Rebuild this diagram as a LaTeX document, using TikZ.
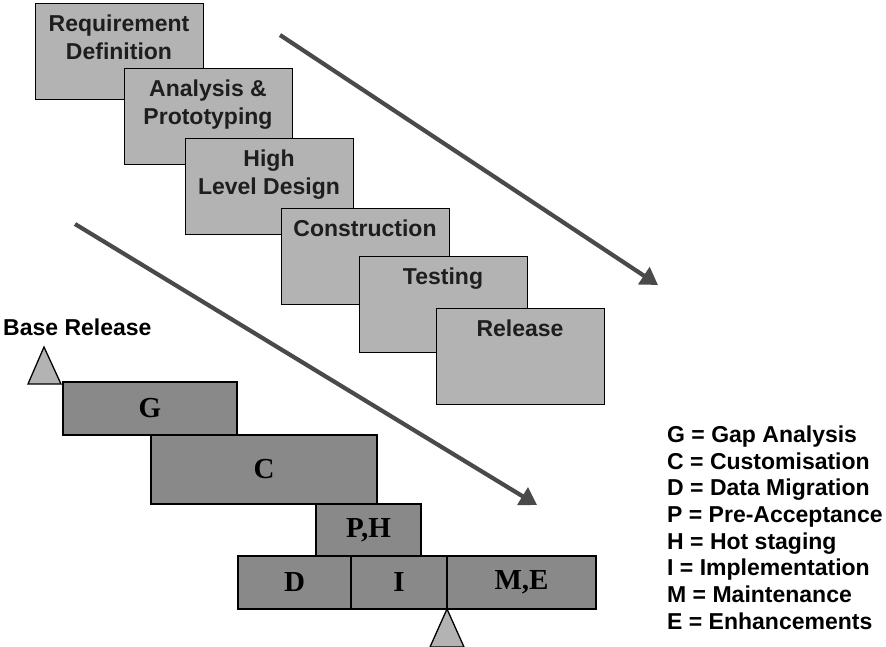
\documentclass[tikz,border=0pt]{standalone}
\usepackage{fontspec}
\setmainfont{Liberation Sans}
\newfontfamily\boxserif{Liberation Serif}
\usetikzlibrary{arrows.meta}

\definecolor{phasefill}{HTML}{B3B3B3}
\definecolor{stepfill}{HTML}{898989}
\definecolor{flowgray}{HTML}{4A4A4A}
\definecolor{phasetext}{HTML}{1E1E1E}

\tikzset{
  phasebox/.style={draw=black, line width=1.3pt, fill=phasefill, inner sep=0pt,
    minimum width=168pt, minimum height=96pt, anchor=north west},
  phaselabel/.style={inner sep=0pt, anchor=north, align=center, text=phasetext,
    font=\bfseries\fontsize{23}{28}\selectfont},
  stepbox/.style={draw=black, line width=1.3pt, fill=stepfill, inner sep=0pt,
    font=\boxserif\bfseries\fontsize{29}{30}\selectfont},
  marker/.style={draw=black, line width=1.3pt, fill=phasefill, line join=miter},
  flow/.style={draw=flowgray, line width=4.2pt, -{Triangle[length=17pt,width=20pt]}},
  plain/.style={inner sep=0pt, font=\bfseries\fontsize{23}{26.7}\selectfont}
}

\begin{document}
\begin{tikzpicture}[x=1pt, y=-1pt]
\useasboundingbox (0,0) rectangle (886,647);

% waterfall phases, each one drawn over the previous
\node[phasebox] (rq) at (35,3) {};
\node[phaselabel] (rqt) at (119,15) {Requirement\\Definition};
\node[phasebox] (ap) at (124,68) {};
\node[phaselabel] (apt) at (208,80) {Analysis \&\\Prototyping};
\node[phasebox] (hl) at (185,138) {};
\node[phaselabel] (hlt) at (269,150) {High\\Level Design};
\node[phasebox] (co) at (281,208) {};
\node[phaselabel] (cot) at (365,220) {Construction};
\node[phasebox] (te) at (359,256) {};
\node[phaselabel] (tet) at (443,268) {Testing};
\node[phasebox] (re) at (436,308) {};
\node[phaselabel] (ret) at (520,320) {Release};

% direction arrows
\coordinate (a1s) at (280,35);
\coordinate (a1e) at (658,285);
\coordinate (a2s) at (75,224);
\coordinate (a2e) at (537,505);
\draw[flow] (a1s) -- (a1e);
\draw[flow] (a2s) -- (a2e);

% package implementation steps
\node[stepbox, minimum width=174pt, minimum height=53pt] (g) at (150,408.5) {G};
\node[stepbox, minimum width=226pt, minimum height=69pt] (c) at (264,469.5) {C};
\node[stepbox, minimum width=105pt, minimum height=52pt] (ph) at (368.5,530) {P,H};
\node[stepbox, minimum width=113pt, minimum height=53pt] (d) at (294.5,582.5) {D};
\node[stepbox, minimum width=96pt, minimum height=53pt] (i) at (399,582.5) {I};
\node[stepbox, minimum width=149pt, minimum height=53pt] (me) at (521.5,582.5) {M,E};

% release markers
\coordinate (m1) at (44,347);
\draw[marker] (m1) -- (61,384) -- (28,384) -- cycle;
\coordinate (m2) at (447,609);
\draw[marker] (m2) -- (464,647) -- (430,647) -- cycle;

\node[plain, anchor=base west] (base) at (3,335) {Base Release};

% legend
\node[plain, anchor=north west, align=left] (key) at (667,425.5) {%
G = Gap Analysis\\
C = Customisation\\
D = Data Migration\\
P = Pre-Acceptance\\
H = Hot staging\\
I = Implementation\\
M = Maintenance\\
E = Enhancements};
\end{tikzpicture}
\end{document}
